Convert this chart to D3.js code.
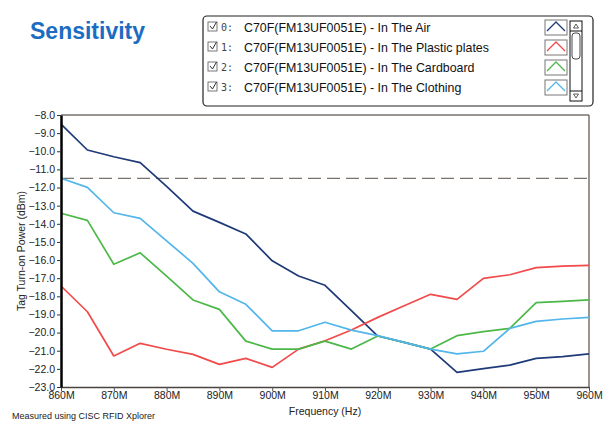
<!DOCTYPE html>
<html>
<head>
<meta charset="utf-8">
<script src="https://cdn.jsdelivr.net/npm/d3@7"></script>
<style>
  html, body { margin: 0; padding: 0; background: #fff; }
  svg { display: block; }
</style>
</head>
<body>
<svg id="chart" width="610" height="430"></svg>
<script>
// ---- data ----
const frequencies = [860, 865, 870, 875, 880, 885, 890, 895, 900, 905, 910,
                     915, 920, 925, 930, 935, 940, 945, 950, 955, 960];
const seriesNames = [
  "C70F(FM13UF0051E) - In The Air",
  "C70F(FM13UF0051E) - In The Plastic plates",
  "C70F(FM13UF0051E) - In The Cardboard",
  "C70F(FM13UF0051E) - In The Clothing"
];
const seriesColors = ["#1f3a78", "#f24a4a", "#4cb848", "#52b6ea"];
const inTheAir = [-8.5, -9.93, -10.3, -10.63, -11.93, -13.3, -13.92, -14.56, -16.04, -16.88, -17.39,
                  -18.79, -20.19, -20.54, -20.91, -22.19, -21.99, -21.79, -21.42, -21.33, -21.17];
const inPlastic = [-17.43, -18.85, -21.29, -20.59, -20.92, -21.2, -21.75, -21.42, -21.92, -20.91, -20.45,
                   -19.86, -19.16, -18.52, -17.89, -18.17, -17.01, -16.81, -16.42, -16.33, -16.29];
const inCardboard = [-13.42, -13.81, -16.23, -15.6, -16.88, -18.2, -18.72, -20.47, -20.91, -20.91, -20.47,
                     -20.91, -20.19, -20.54, -20.91, -20.17, -19.95, -19.77, -18.35, -18.28, -18.2];
const inClothing = [-11.49, -11.99, -13.39, -13.7, -14.94, -16.18, -17.75, -18.44, -19.9, -19.9, -19.43,
                    -19.86, -20.17, -20.54, -20.91, -21.17, -21.03, -19.77, -19.38, -19.25, -19.16];
const thresholdLevel = -11.5;
const yTicks = [-8, -9, -10, -11, -12, -13, -14, -15, -16, -17, -18, -19, -20, -21, -22, -23];
const xTicks = [860, 870, 880, 890, 900, 910, 920, 930, 940, 950, 960];
const titleText = "Sensitivity";
const xTitle = "Frequency (Hz)";
const yTitle = "Tag Turn-on Power (dBm)";
const footNote = "Measured using CISC RFID Xplorer";

const seriesValues = [inTheAir, inPlastic, inCardboard, inClothing];

// ---- layout ----
const svg = d3.select("#chart");
const plot = { left: 61, right: 589, top: 115, bottom: 387 };

const x = d3.scaleLinear().domain([860, 960]).range([plot.left, plot.right]);
const y = d3.scaleLinear().domain([-23, -8]).range([plot.bottom, plot.top]);

const tickFont = "'Liberation Sans', Arial, sans-serif";

// Title
svg.append("text")
  .attr("x", 30).attr("y", 39)
  .attr("font-family", "'Liberation Sans', Arial, sans-serif")
  .attr("font-weight", "bold")
  .attr("font-size", 23)
  .attr("fill", "#1c6cc2")
  .text(titleText);

// Frame: top and right gray
svg.append("line")
  .attr("x1", plot.left).attr("x2", plot.right)
  .attr("y1", plot.top).attr("y2", plot.top)
  .attr("stroke", "#7a726c").attr("stroke-width", 1.5);
svg.append("line")
  .attr("x1", plot.right).attr("x2", plot.right)
  .attr("y1", plot.top).attr("y2", plot.bottom)
  .attr("stroke", "#7a726c").attr("stroke-width", 1.5);

// Threshold dashed line
svg.append("line")
  .attr("x1", plot.left).attr("x2", plot.right)
  .attr("y1", y(thresholdLevel)).attr("y2", y(thresholdLevel))
  .attr("stroke", "#7a726c").attr("stroke-width", 1.2)
  .attr("stroke-dasharray", "13,6");

// Series lines
const line = d3.line()
  .x((d, i) => x(frequencies[i]))
  .y(d => y(d));

seriesValues.forEach((vals, k) => {
  svg.append("path")
    .datum(vals)
    .attr("d", line)
    .attr("fill", "none")
    .attr("stroke", seriesColors[k])
    .attr("stroke-width", 1.7)
    .attr("stroke-linejoin", "round");
});

// X axis
const xAxis = svg.append("g")
  .attr("transform", `translate(0,${plot.bottom})`)
  .call(d3.axisBottom(x).tickValues(xTicks).tickFormat(d => d + "M").tickSize(4).tickSizeOuter(0));
xAxis.select(".domain").attr("stroke", "#4a4440").attr("stroke-width", 1.5);
xAxis.selectAll(".tick line").attr("stroke", "#555");
xAxis.selectAll("text")
  .attr("font-family", tickFont).attr("font-size", 10.5).attr("fill", "#222")
  .attr("dy", "0.5em");

// Y axis
const yAxis = svg.append("g")
  .attr("transform", `translate(${plot.left},0)`)
  .call(d3.axisLeft(y).tickValues(yTicks).tickFormat(d3.format(".1f")).tickSize(4).tickSizeOuter(0));
yAxis.select(".domain").attr("stroke", "#000").attr("stroke-width", 2.5);
yAxis.selectAll(".tick line").attr("stroke", "#333");
yAxis.selectAll("text")
  .attr("font-family", tickFont).attr("font-size", 10.5).attr("fill", "#222")
  .attr("x", -6);

// Axis titles
svg.append("text")
  .attr("x", (plot.left + plot.right) / 2).attr("y", 415)
  .attr("text-anchor", "middle")
  .attr("font-family", tickFont).attr("font-size", 10.5).attr("fill", "#222")
  .text(xTitle);
svg.append("text")
  .attr("transform", `translate(25,${(plot.top + plot.bottom) / 2}) rotate(-90)`)
  .attr("text-anchor", "middle")
  .attr("font-family", tickFont).attr("font-size", 10.5).attr("fill", "#222")
  .text(yTitle);
svg.append("text")
  .attr("x", 12).attr("y", 419)
  .attr("font-family", tickFont).attr("font-size", 9).attr("fill", "#222")
  .text(footNote);

// ---- Legend box ----
const lg = { x: 203, y: 16, w: 390, h: 90 };
svg.append("rect")
  .attr("x", lg.x).attr("y", lg.y).attr("width", lg.w).attr("height", lg.h)
  .attr("rx", 4).attr("ry", 4)
  .attr("fill", "#fff").attr("stroke", "#222").attr("stroke-width", 1.2);

const rowY = d3.scaleLinear().domain([0, 3]).range([lg.y + 12, lg.y + 72]);

seriesNames.forEach((name, k) => {
  const cy = rowY(k);
  // checkbox
  svg.append("rect")
    .attr("x", 208).attr("y", cy - 6).attr("width", 9).attr("height", 9)
    .attr("fill", "#fff").attr("stroke", "#555").attr("stroke-width", 0.8);
  svg.append("path")
    .attr("d", `M210,${cy - 2} L212.5,${cy + 1} L216.5,${cy - 6}`)
    .attr("fill", "none").attr("stroke", "#333").attr("stroke-width", 1);
  // index
  svg.append("text")
    .attr("x", 221).attr("y", cy + 3)
    .attr("font-family", "'DejaVu Sans Mono', 'Liberation Mono', monospace")
    .attr("font-size", 10).attr("fill", "#444")
    .text(k + ":");
  // name
  svg.append("text")
    .attr("x", 244).attr("y", cy + 4)
    .attr("font-family", "'Liberation Sans', Arial, sans-serif")
    .attr("font-size", 12.4).attr("fill", "#111")
    .text(name);
  // icon
  const iy = cy - 8;
  svg.append("rect")
    .attr("x", 545).attr("y", iy).attr("width", 22).attr("height", 15)
    .attr("fill", "#fff").attr("stroke", "#777").attr("stroke-width", 1);
  svg.append("path")
    .attr("d", `M547,${iy + 11} L556,${iy + 2} L565,${iy + 11}`)
    .attr("fill", "none").attr("stroke", seriesColors[k]).attr("stroke-width", 1.3);
});

// scrollbar
const sb = { x: 570, y: 21, w: 12, h: 80 };
svg.append("rect")
  .attr("x", sb.x).attr("y", sb.y).attr("width", sb.w).attr("height", sb.h)
  .attr("fill", "#fff").attr("stroke", "#111").attr("stroke-width", 1);
svg.append("line")
  .attr("x1", sb.x).attr("x2", sb.x + sb.w).attr("y1", sb.y + 10).attr("y2", sb.y + 10)
  .attr("stroke", "#111");
svg.append("line")
  .attr("x1", sb.x).attr("x2", sb.x + sb.w).attr("y1", sb.y + sb.h - 10).attr("y2", sb.y + sb.h - 10)
  .attr("stroke", "#111");
svg.append("path")
  .attr("d", `M${sb.x + 3.5},${sb.y + 7} L${sb.x + 6},${sb.y + 3} L${sb.x + 8.5},${sb.y + 7} Z`)
  .attr("fill", "none").attr("stroke", "#333").attr("stroke-width", 0.8);
svg.append("path")
  .attr("d", `M${sb.x + 3.5},${sb.y + sb.h - 7} L${sb.x + 6},${sb.y + sb.h - 3} L${sb.x + 8.5},${sb.y + sb.h - 7} Z`)
  .attr("fill", "none").attr("stroke", "#333").attr("stroke-width", 0.8);
svg.append("rect")
  .attr("x", sb.x + 2).attr("y", sb.y + 12).attr("width", sb.w - 4).attr("height", 26)
  .attr("rx", 3).attr("fill", "#fff").attr("stroke", "#333").attr("stroke-width", 0.9);
</script>
</body>
</html>
